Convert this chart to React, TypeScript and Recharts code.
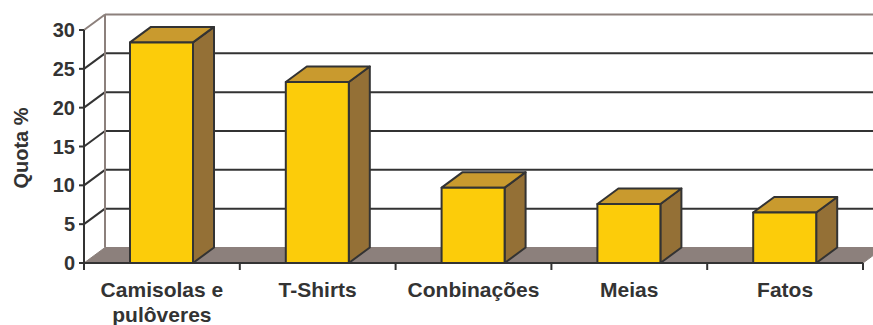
import { BarChart, Bar, XAxis, YAxis, CartesianGrid, Text } from 'recharts'

const categories = ['Camisolas e pulôveres', 'T-Shirts', 'Conbinações', 'Meias', 'Fatos']
const quota = [28.4, 23.3, 9.7, 7.6, 6.5]
const yTicks = [0, 5, 10, 15, 20, 25, 30]

const chartData = categories.map((name, i) => ({ name, quota: quota[i] }))

const WIDTH = 873
const HEIGHT = 325
const MARGIN_TOP = 30
const XAXIS_H = 62
const PLOT_BOTTOM = HEIGHT - XAXIS_H

// depth of the 3d look
const DX = 21
const DY = 15.5

const INK = '#333333'
const WALL = '#8c807c'
const FRONT = '#fccc0a'
const TOPC = '#c99a2e'
const SIDE = '#947036'
const FONT = '"Liberation Sans", Arial, Helvetica, sans-serif'

// back wall lines + floor, drawn from the grid's own line positions
function WallLine(props: any) {
  const { x1, x2, y1 } = props
  const y = y1
  if (Math.abs(y - PLOT_BOTTOM) < 1) {
    return (
      <polygon
        points={`${x1},${y} ${x2},${y} ${x2 + DX},${y - DY} ${x1 + DX},${y - DY}`}
        fill={WALL}
        stroke={WALL}
        strokeWidth={1}
      />
    )
  }
  const isTop = Math.abs(y - MARGIN_TOP) < 1
  const c = isTop ? WALL : INK
  return (
    <g>
      {isTop && (
        <line x1={x1 + DX} y1={y - DY} x2={x1 + DX} y2={PLOT_BOTTOM - DY} stroke={WALL} strokeWidth={2} />
      )}
      <line x1={x1} y1={y} x2={x1 + DX} y2={y - DY} stroke={c} strokeWidth={2} />
      <line x1={x1 + DX} y1={y - DY} x2={x2 + DX} y2={y - DY} stroke={c} strokeWidth={2} />
    </g>
  )
}

function Box3D(props: any) {
  const { x, y, width, height } = props
  if (!height || height <= 0) return null
  const r = x + width
  const b = y + height
  return (
    <g stroke={INK} strokeWidth={2} strokeLinejoin="round">
      <polygon points={`${r},${b} ${r + DX},${b - DY} ${r + DX},${y - DY} ${r},${y}`} fill={SIDE} />
      <polygon points={`${x},${y} ${x + DX},${y - DY} ${r + DX},${y - DY} ${r},${y}`} fill={TOPC} />
      <rect x={x} y={y} width={width} height={height} fill={FRONT} />
    </g>
  )
}

function CategoryTick(props: any) {
  const { x, y, payload, index, width } = props
  const half = payload && payload.offset > 0 ? payload.offset : (width || 779) / categories.length / 2
  const last = index === categories.length - 1
  const style = { fontSize: 21, fontWeight: 'bold' as const, fontFamily: FONT }
  return (
    <g>
      <line x1={x - half} y1={y} x2={x - half} y2={y + 7} stroke={INK} strokeWidth={2} />
      {last && <line x1={x + half} y1={y} x2={x + half} y2={y + 7} stroke={INK} strokeWidth={2} />}
      <Text
        x={x}
        y={y + 19}
        width={150}
        textAnchor="middle"
        verticalAnchor="start"
        lineHeight={25}
        fill={INK}
        style={style}
      >
        {payload.value}
      </Text>
    </g>
  )
}

function QuotaLabel(props: any) {
  const vb = props.viewBox || { y: MARGIN_TOP, height: PLOT_BOTTOM - MARGIN_TOP }
  const cx = 28
  const cy = vb.y + vb.height / 2 + 1.5
  return (
    <text
      x={cx}
      y={cy}
      transform={`rotate(-90 ${cx} ${cy})`}
      textAnchor="middle"
      fill={INK}
      style={{ fontSize: 20, fontWeight: 'bold', fontFamily: FONT }}
    >
      Quota %
    </text>
  )
}

export default function App() {
  return (
    <div style={{ position: 'absolute', left: 0, top: 0, width: WIDTH, height: HEIGHT, background: '#fff' }}>
      <BarChart
        width={WIDTH}
        height={HEIGHT}
        data={chartData}
        margin={{ top: MARGIN_TOP, right: 10, bottom: 0, left: 0 }}
      >
        <CartesianGrid vertical={false} horizontal={WallLine} />
        <XAxis
          dataKey="name"
          interval={0}
          height={XAXIS_H}
          tickSize={0}
          tickMargin={0}
          tickLine={false}
          axisLine={{ stroke: INK, strokeWidth: 2 }}
          tick={CategoryTick}
        />
        <YAxis
          domain={[0, 30]}
          ticks={yTicks}
          interval={0}
          width={84}
          tickSize={5}
          tickMargin={4}
          axisLine={{ stroke: INK, strokeWidth: 2 }}
          tickLine={{ stroke: INK, strokeWidth: 2 }}
          tick={{ fill: INK, fontSize: 20, fontWeight: 'bold', fontFamily: FONT }}
          label={<QuotaLabel />}
        />
        <Bar dataKey="quota" barSize={63} shape={Box3D} isAnimationActive={false} />
      </BarChart>
    </div>
  )
}
